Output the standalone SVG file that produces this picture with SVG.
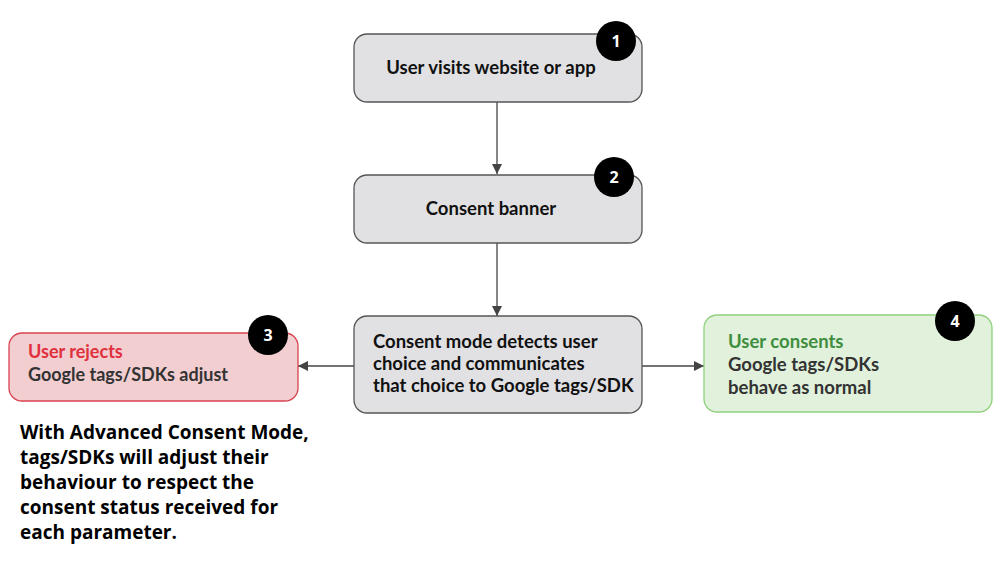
<svg xmlns="http://www.w3.org/2000/svg" width="1000" height="571" viewBox="0 0 1000 571">
<defs>
<marker id="ah" viewBox="0 0 10 10" refX="10" refY="5" markerWidth="10" markerHeight="10" markerUnits="userSpaceOnUse" orient="auto">
<path d="M0,0 L10,5 L0,10 z" fill="#444"/>
</marker>
<style>
.box{fill:#e1e1e3;stroke:#555;stroke-width:1.3}
.red{fill:#f2ced1;stroke:#d9434f;stroke-width:1.3}
.green{fill:#e1f1dc;stroke:#8fcf7f;stroke-width:1.3}
.t{font-family:Lato,"Open Sans",sans-serif;font-weight:700;font-size:18.5px;fill:#111}
.g{font-family:Lato,"Open Sans",sans-serif;font-weight:700;font-size:18.5px;fill:#333}
.badge{fill:#000}
.bn{font-family:"Open Sans",sans-serif;font-weight:700;font-size:16px;fill:#fff;text-anchor:middle}
.note{font-family:"Open Sans",sans-serif;font-weight:700;font-size:19px;fill:#000}
.conn{stroke:#444;stroke-width:1.3;fill:none}
</style>
</defs>
<rect width="1000" height="571" fill="#fff"/>
<g id="connectors">
<line class="conn" x1="497" y1="102" x2="497" y2="174" marker-end="url(#ah)"/>
<line class="conn" x1="497" y1="243" x2="497" y2="316" marker-end="url(#ah)"/>
<line class="conn" x1="354" y1="366" x2="298" y2="366" marker-end="url(#ah)"/>
<line class="conn" x1="642" y1="366" x2="704" y2="366" marker-end="url(#ah)"/>
</g>
<g id="node1">
<rect class="box" x="354" y="34" width="288" height="68" rx="13"/>
<text class="t" x="491" y="74" text-anchor="middle">User visits website or app</text>
<circle class="badge" cx="616" cy="41" r="20"/>
<text class="bn" x="616" y="47">1</text>
</g>
<g id="node2">
<rect class="box" x="354" y="175" width="288" height="68" rx="13"/>
<text class="t" x="491" y="215" text-anchor="middle">Consent banner</text>
<circle class="badge" cx="614" cy="177" r="20"/>
<text class="bn" x="614" y="183">2</text>
</g>
<g id="node3">
<rect class="red" x="9" y="333" width="289" height="68" rx="13"/>
<text class="t" x="28" y="358" style="fill:#e0303c;font-size:18px">User rejects</text>
<text class="g" x="28" y="381" style="font-size:18px">Google tags/SDKs adjust</text>
<circle class="badge" cx="268" cy="335" r="20"/>
<text class="bn" x="268" y="341">3</text>
</g>
<g id="node-center">
<rect class="box" x="354" y="316" width="288" height="97" rx="13"/>
<text class="t" x="373" y="348">Consent mode detects user</text>
<text class="t" x="373" y="370">choice and communicates</text>
<text class="t" x="373" y="392">that choice to Google tags/SDK</text>
</g>
<g id="node4">
<rect class="green" x="704" y="315" width="288" height="97" rx="13"/>
<text class="t" x="728" y="348" style="fill:#3e8e3e">User consents</text>
<text class="g" x="728" y="371">Google tags/SDKs</text>
<text class="g" x="728" y="394">behave as normal</text>
<circle class="badge" cx="955" cy="321" r="20"/>
<text class="bn" x="955" y="327">4</text>
</g>
<g id="note">
<text class="note" x="20" y="439">With Advanced Consent Mode,</text>
<text class="note" x="20" y="464">tags/SDKs will adjust their</text>
<text class="note" x="20" y="489">behaviour to respect the</text>
<text class="note" x="20" y="514">consent status received for</text>
<text class="note" x="20" y="539">each parameter.</text>
</g>
</svg>
